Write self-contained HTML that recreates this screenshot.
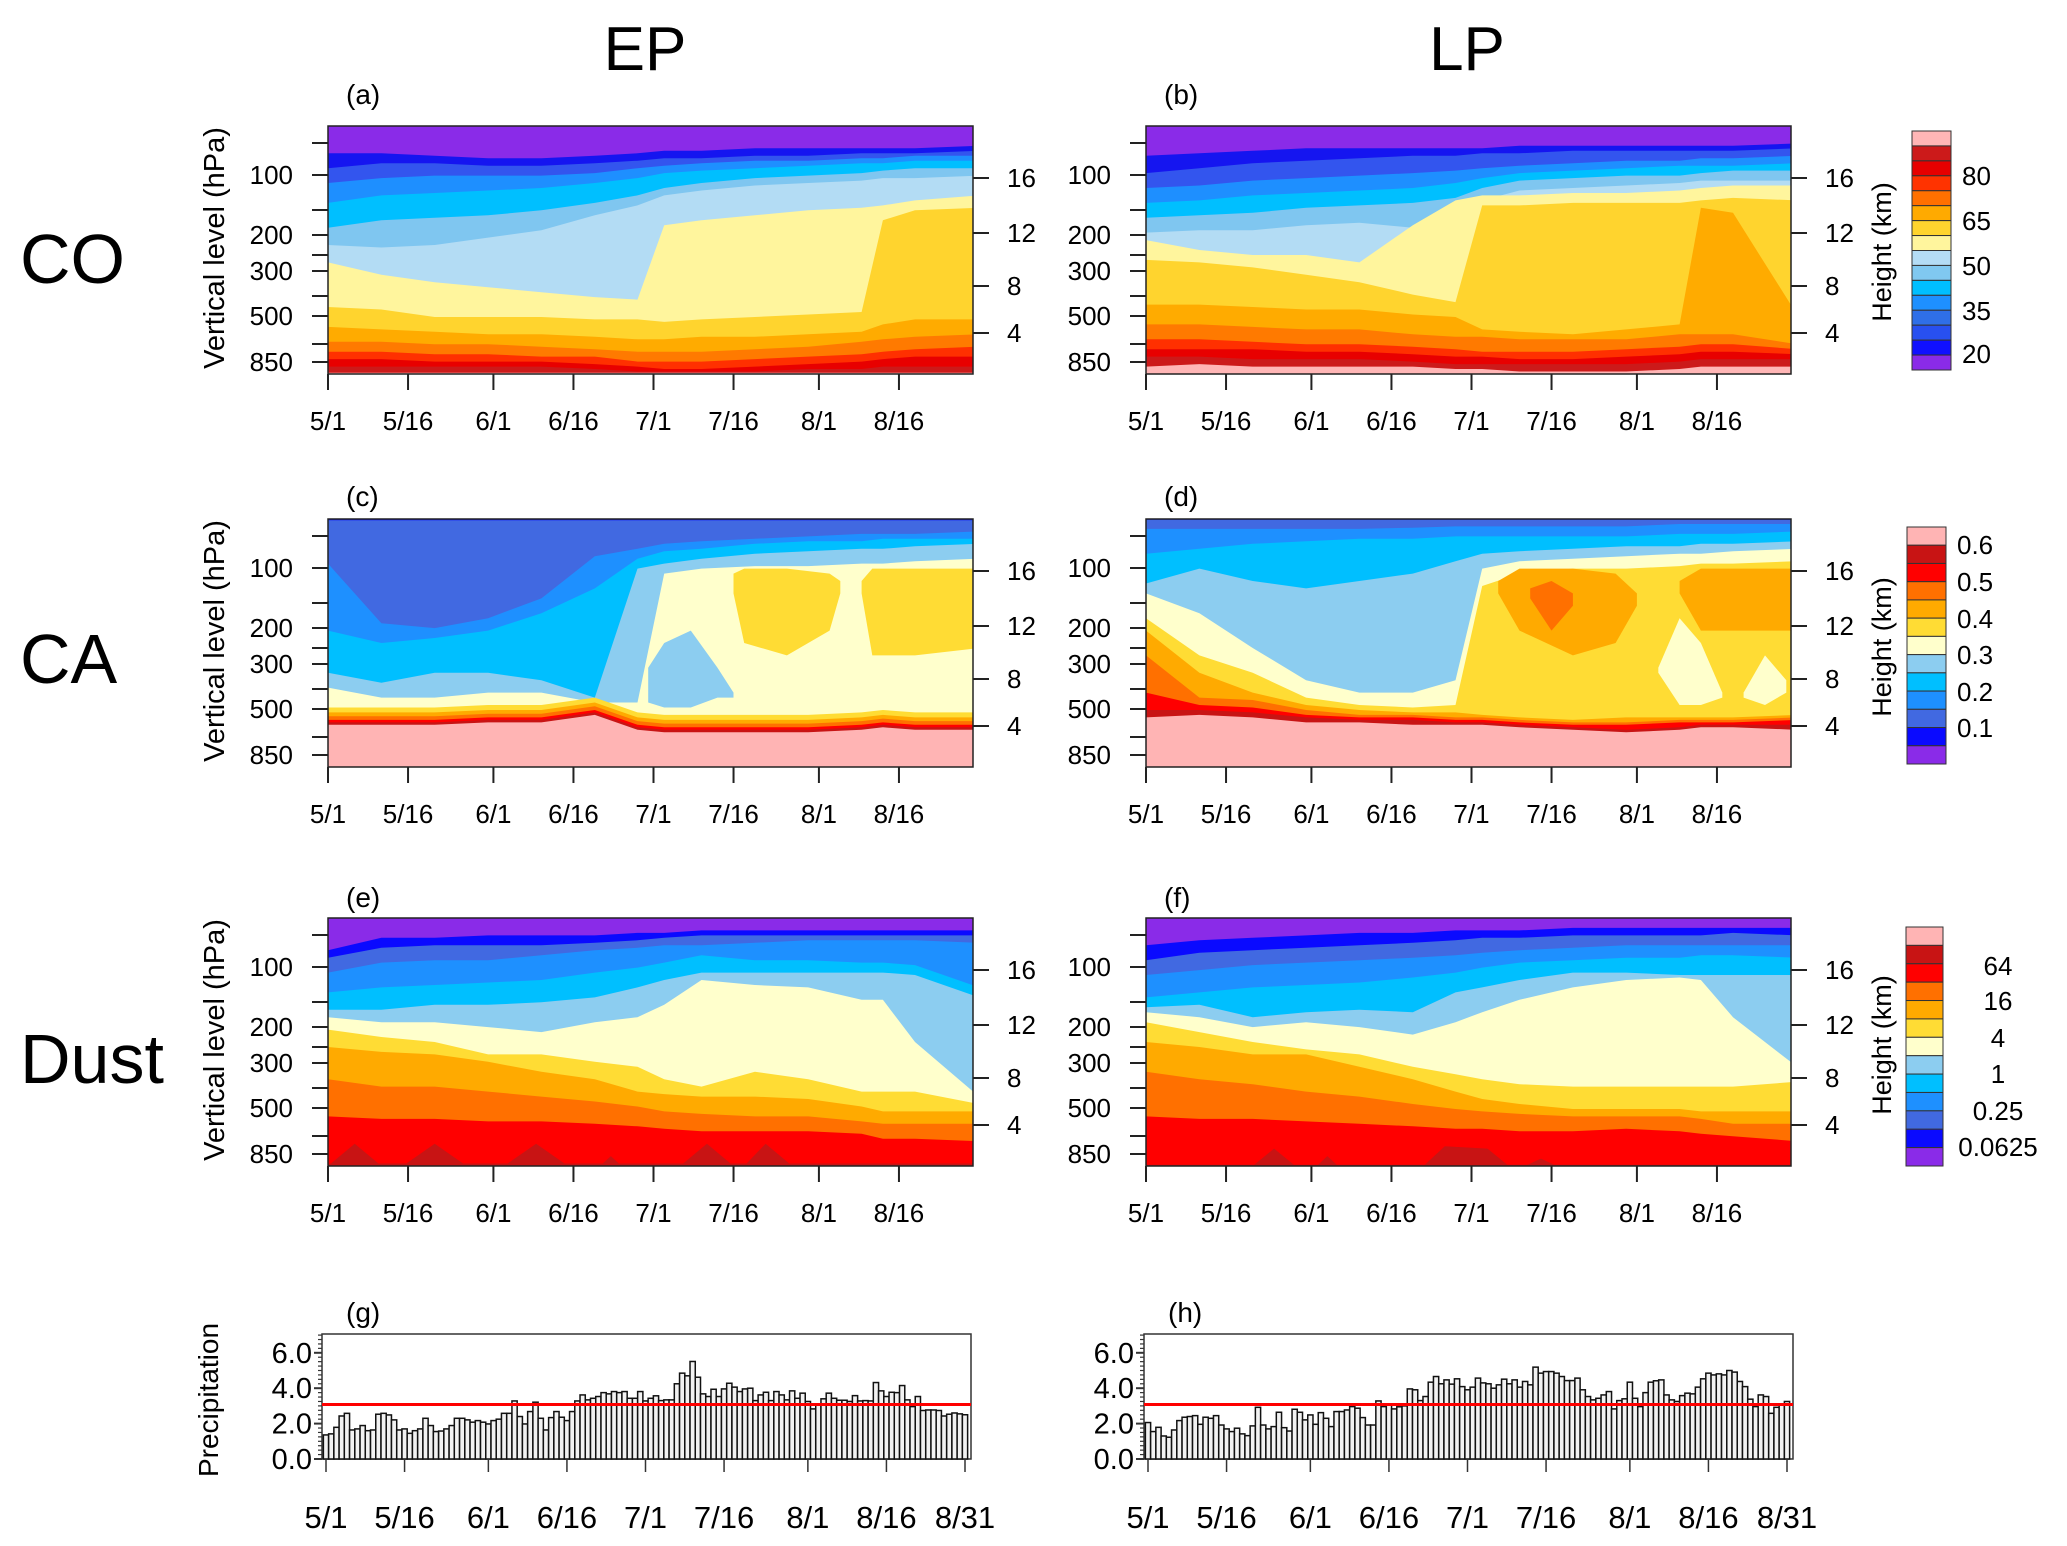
<!DOCTYPE html>
<html><head><meta charset="utf-8">
<style>
html,body{margin:0;padding:0;background:#fff;}
svg{display:block;font-family:"Liberation Sans",sans-serif;}
</style></head>
<body>
<svg id="fig" width="2067" height="1546" viewBox="0 0 2067 1546" xmlns="http://www.w3.org/2000/svg"></svg>
<script>
// ===== data =====
const DAYS=[0,10,20,30,40,50,58,63,70,80,90,100,104,110,122];
const DATE_TICK_DAYS=[0,15,31,46,61,76,92,107];
const DATE_TICK_LABELS=['5/1','5/16','6/1','6/16','7/1','7/16','8/1','8/16'];
const PRECIP_TICK_DAYS=[0,15,31,46,61,76,92,107,122];
const PRECIP_TICK_LABELS=['5/1','5/16','6/1','6/16','7/1','7/16','8/1','8/16','8/31'];
const PLEV_LABELS=['100','200','300','500','850'];
const HGT_LABELS=['16','12','8','4'];

const CO_COLORS=['#8a2be8','#1515f0','#3355ee','#1e8fff','#00bfff','#7fc6f0','#b3dcf4','#fff59d','#ffd42e','#ffab00','#ff7a00','#ff3000','#e80000','#cc1a1a','#ffb6b6'];
const CO_BAR=['#ffb6b6','#cc1a1a','#e60000','#ff3300','#ff7000','#ffaa00','#ffd42e','#fff59d','#b4dcf5','#80c8f0','#00bfff','#1e90ff','#2f6fe8','#2850f0','#1010ff','#8a2be8'];
const CO_BAR_LABELS=['80','65','50','35','20'];
const CA_COLORS=['#8a2be8','#0a0aff','#4169e1','#1e90ff','#00bfff','#8ccdf0','#ffffcc','#ffdc34','#ffaa00','#ff7000','#ff0000','#c81414','#ffb4b4'];
const CA_BAR_LABELS=['0.6','0.5','0.4','0.3','0.2','0.1'];
const DU_COLORS=['#8a2be8','#0a0aff','#4169e1','#1e90ff','#00bfff','#8ccdf0','#ffffcc','#ffdc34','#ffaa00','#ff7000','#ff0000','#c81414'];
const DU_BAR=['#ffb4b4','#c81414','#ff0000','#ff7000','#ffaa00','#ffdc34','#ffffcc','#8ccdf0','#00bfff','#1e90ff','#4169e1','#0a0aff','#8a2be8'];
const DU_BAR_LABELS=['64','16','4','1','0.25','0.0625'];

const A_B=[
[.11,.11,.12,.13,.13,.12,.11,.10,.10,.09,.09,.09,.09,.09,.08],
[.17,.15,.15,.16,.16,.15,.14,.13,.13,.12,.12,.11,.11,.11,.10],
[.23,.21,.20,.20,.20,.19,.17,.16,.15,.14,.14,.13,.13,.12,.12],
[.31,.28,.27,.26,.25,.23,.21,.19,.18,.17,.16,.15,.15,.14,.14],
[.41,.38,.37,.36,.34,.31,.28,.25,.23,.21,.20,.19,.18,.17,.17],
[.48,.49,.48,.45,.42,.36,.32,.28,.26,.24,.23,.22,.21,.21,.20],
[.55,.60,.63,.65,.67,.69,.70,.40,.38,.36,.34,.33,.32,.30,.28],
[.73,.74,.77,.77,.77,.78,.78,.79,.78,.77,.76,.75,.38,.34,.33],
[.81,.82,.83,.84,.84,.85,.86,.86,.85,.85,.84,.83,.80,.78,.78],
[.87,.87,.88,.88,.89,.90,.91,.91,.91,.90,.89,.87,.86,.85,.84],
[.91,.91,.92,.92,.93,.93,.95,.95,.95,.94,.93,.92,.91,.90,.89],
[.94,.94,.95,.95,.95,.96,.97,.98,.98,.97,.96,.95,.94,.93,.93],
[.97,.97,.97,.97,.97,.98,.99,.99,.99,.99,.98,.98,.97,.97,.97],
[.995,.995,.995,.995,.995,.995,.995,.995,.995,.995,.995,.995,.995,.995,.995]];
const B_B=[
[.12,.11,.10,.09,.09,.09,.09,.09,.08,.08,.08,.08,.08,.08,.07],
[.19,.17,.15,.14,.13,.12,.12,.11,.11,.10,.10,.10,.10,.10,.09],
[.25,.24,.22,.21,.20,.19,.18,.17,.16,.15,.14,.14,.13,.13,.12],
[.31,.30,.28,.27,.26,.25,.23,.21,.19,.18,.17,.16,.16,.16,.15],
[.37,.36,.35,.33,.32,.31,.29,.25,.22,.21,.20,.20,.19,.18,.18],
[.43,.42,.42,.40,.39,.41,.37,.30,.26,.25,.24,.23,.22,.22,.22],
[.46,.50,.52,.52,.55,.40,.30,.28,.28,.27,.27,.26,.25,.24,.24],
[.54,.55,.57,.60,.63,.68,.71,.32,.32,.31,.31,.31,.30,.29,.30],
[.72,.72,.73,.74,.74,.76,.77,.82,.83,.84,.82,.80,.33,.35,.76],
[.80,.80,.81,.82,.82,.84,.85,.85,.86,.86,.86,.84,.84,.84,.88],
[.86,.86,.87,.88,.88,.89,.90,.91,.91,.91,.90,.89,.88,.88,.90],
[.90,.90,.90,.91,.91,.92,.93,.93,.94,.94,.93,.92,.91,.91,.92],
[.93,.93,.94,.94,.94,.95,.96,.96,.96,.96,.96,.95,.94,.94,.94],
[.97,.96,.97,.97,.97,.97,.98,.98,.99,.99,.99,.98,.97,.97,.97]];
const C_B=[
[0,0,0,0,0,0,0,0,0,0,0,0,0,0,0],
[.005,.005,.005,.005,.005,.005,.005,.005,.005,.005,.005,.005,.005,.005,.005],
[.18,.42,.44,.40,.32,.15,.12,.10,.09,.08,.07,.06,.06,.06,.05],
[.45,.50,.48,.45,.38,.28,.16,.13,.12,.10,.09,.09,.08,.08,.08],
[.62,.66,.62,.62,.65,.72,.20,.18,.16,.14,.13,.12,.12,.11,.10],
[.68,.72,.72,.70,.70,.74,.74,.22,.20,.19,.19,.18,.18,.17,.16],
[.76,.76,.76,.75,.75,.72,.78,.79,.79,.79,.79,.78,.77,.78,.78],
[.78,.78,.78,.77,.77,.74,.80,.81,.81,.81,.81,.80,.79,.80,.80],
[.795,.795,.795,.785,.785,.755,.815,.825,.825,.825,.825,.815,.805,.815,.815],
[.81,.81,.81,.80,.80,.77,.83,.84,.84,.84,.84,.83,.82,.83,.83],
[.82,.82,.82,.81,.81,.78,.84,.85,.85,.85,.85,.84,.83,.84,.84],
[.83,.83,.83,.82,.82,.79,.85,.86,.86,.86,.86,.85,.84,.85,.85]];
const D_B=[
[0,0,0,0,0,0,0,0,0,0,0,0,0,0,0],
[.003,.003,.003,.003,.003,.003,.003,.003,.003,.003,.003,.003,.003,.003,.003],
[.04,.04,.04,.04,.04,.035,.03,.03,.03,.03,.03,.02,.02,.02,.02],
[.14,.12,.10,.09,.08,.08,.07,.07,.07,.07,.07,.06,.06,.06,.05],
[.26,.20,.25,.28,.25,.22,.17,.14,.13,.12,.11,.11,.10,.10,.09],
[.30,.38,.52,.65,.70,.70,.65,.20,.17,.16,.15,.14,.14,.13,.12],
[.40,.55,.62,.72,.75,.76,.75,.27,.22,.20,.20,.19,.18,.18,.17],
[.45,.62,.70,.75,.77,.78,.78,.79,.80,.81,.80,.80,.80,.80,.79],
[.55,.72,.73,.77,.79,.79,.80,.80,.81,.82,.82,.81,.81,.81,.80],
[.70,.75,.76,.79,.80,.80,.81,.81,.82,.83,.83,.82,.82,.82,.81],
[.77,.77,.78,.80,.81,.81,.82,.82,.83,.84,.85,.84,.83,.83,.83],
[.80,.79,.80,.82,.82,.83,.83,.83,.84,.85,.86,.85,.84,.84,.85]];
const E_B=[
[.13,.08,.08,.07,.07,.07,.06,.06,.05,.05,.05,.05,.05,.05,.05],
[.16,.12,.11,.11,.11,.10,.09,.08,.07,.07,.07,.07,.07,.07,.07],
[.22,.18,.17,.17,.15,.13,.12,.11,.11,.10,.09,.09,.09,.09,.10],
[.30,.28,.27,.26,.25,.22,.20,.18,.15,.17,.17,.18,.18,.19,.28],
[.37,.37,.35,.35,.34,.32,.28,.25,.22,.22,.22,.22,.22,.23,.32],
[.40,.42,.42,.44,.46,.42,.40,.35,.25,.27,.28,.33,.33,.50,.72],
[.45,.48,.50,.55,.55,.58,.60,.65,.68,.62,.65,.70,.70,.70,.75],
[.52,.54,.55,.58,.62,.65,.70,.71,.72,.72,.73,.76,.78,.78,.78],
[.65,.68,.68,.70,.72,.74,.76,.78,.79,.80,.80,.82,.83,.83,.83],
[.80,.81,.81,.82,.82,.83,.84,.85,.86,.86,.86,.87,.89,.89,.90],
[.99,.99,.99,.99,.99,.99,.99,.99,.99,.99,.99,.99,.99,.99,.99]];
const F_B=[
[.11,.09,.08,.07,.06,.06,.05,.05,.05,.04,.04,.04,.04,.04,.04],
[.17,.14,.13,.12,.11,.10,.09,.08,.08,.07,.07,.07,.07,.06,.07],
[.23,.21,.19,.18,.17,.16,.15,.14,.13,.12,.11,.11,.11,.11,.11],
[.32,.30,.28,.27,.26,.24,.22,.20,.18,.17,.16,.16,.15,.15,.16],
[.36,.35,.40,.38,.37,.38,.30,.28,.25,.22,.22,.23,.23,.23,.23],
[.38,.40,.44,.42,.44,.47,.42,.38,.33,.28,.25,.24,.25,.40,.60],
[.42,.46,.50,.53,.55,.60,.63,.65,.67,.68,.68,.68,.68,.68,.66],
[.50,.52,.55,.55,.60,.65,.70,.73,.75,.77,.77,.77,.78,.78,.78],
[.62,.65,.67,.70,.72,.75,.77,.78,.79,.80,.80,.80,.81,.83,.83],
[.80,.81,.81,.82,.83,.84,.85,.85,.86,.86,.85,.86,.87,.88,.90],
[.995,.995,.995,.995,.995,.995,.995,.995,.995,.995,.995,.995,.995,.995,.995]];
const C_BLOBS=[
{c:5,d:[60,63,68,73,76],t:[.6,.5,.45,.6,.7],b:[.74,.76,.76,.72,.72]},
{c:7,d:[76,78,86,94,96],t:[.22,.20,.20,.22,.25],b:[.3,.5,.55,.45,.3]},
{c:7,d:[100,102,110,122],t:[.25,.2,.2,.2],b:[.3,.55,.55,.52]}];
const D_BLOBS=[
{c:8,d:[66,70,80,88,92],t:[.25,.2,.2,.22,.3],b:[.3,.45,.55,.5,.35]},
{c:9,d:[72,76,80],t:[.28,.25,.3],b:[.32,.45,.35]},
{c:8,d:[100,104,110,122],t:[.25,.2,.2,.2],b:[.3,.45,.45,.45]},
{c:6,d:[96,100,104,108],t:[.6,.4,.5,.7],b:[.62,.75,.75,.72]},
{c:6,d:[112,116,120],t:[.7,.55,.65],b:[.72,.75,.7]}];
const E_BLOBS=[
{c:11,d:[0,5,10],t:[1,.91,1],b:[1,1,1]},
{c:11,d:[14,20,26],t:[1,.91,1],b:[1,1,1]},
{c:11,d:[33,39,45],t:[1,.91,1],b:[1,1,1]},
{c:11,d:[51,53,55],t:[1,.96,1],b:[1,1,1]},
{c:11,d:[66,71,76],t:[1,.91,1],b:[1,1,1]},
{c:11,d:[78,82,87],t:[1,.91,1],b:[1,1,1]}];
const F_BLOBS=[
{c:11,d:[20,24,28],t:[1,.93,1],b:[1,1,1]},
{c:11,d:[32,34,36],t:[1,.96,1],b:[1,1,1]},
{c:11,d:[52,56,64,68],t:[1,.92,.93,1],b:[1,1,1,1]},
{c:11,d:[71,74,77],t:[1,.97,1],b:[1,1,1]}];

const EP_PRECIP=[1.36,1.42,1.79,2.43,2.58,1.64,1.70,1.89,1.60,1.64,2.53,2.58,2.49,2.21,1.64,1.70,1.45,1.60,1.70,2.30,1.89,1.55,1.58,1.70,1.89,2.30,2.30,2.21,2.08,2.17,2.08,1.98,2.17,2.25,2.58,2.58,3.28,2.40,1.98,2.68,3.21,2.30,1.64,2.34,2.68,2.36,2.17,2.68,3.28,3.62,3.34,3.43,3.53,3.75,3.68,3.81,3.75,3.81,3.43,3.43,3.81,3.28,3.43,3.57,3.30,3.34,3.34,4.25,4.85,4.70,5.51,4.62,3.68,3.53,3.94,3.53,3.96,4.28,4.06,3.81,3.96,4.00,3.30,3.62,3.77,3.30,3.81,3.62,3.34,3.85,3.43,3.72,3.25,2.83,3.06,3.40,3.72,3.43,3.32,3.32,3.25,3.58,3.28,3.30,3.28,4.32,3.85,3.53,3.77,3.75,4.15,3.34,2.96,3.53,2.74,2.77,2.77,2.74,2.43,2.53,2.60,2.55,2.50];
const LP_PRECIP=[2.06,1.55,1.79,1.30,1.23,1.64,2.17,2.36,2.40,2.45,1.96,2.36,2.30,2.45,1.92,1.70,1.55,1.74,1.42,1.32,1.87,2.92,1.92,1.70,1.83,2.64,1.77,1.58,2.81,2.64,2.21,2.49,1.96,2.62,2.30,1.83,2.68,2.68,2.77,2.96,2.87,2.34,1.92,1.92,3.28,2.96,3.11,2.83,2.95,3.00,3.96,3.91,3.30,3.53,4.34,4.66,4.25,4.47,4.23,4.53,4.09,3.91,4.06,4.57,4.30,4.25,4.00,4.19,4.51,4.25,4.47,4.06,4.38,4.19,5.19,4.85,4.94,4.94,4.85,4.66,4.43,4.43,4.57,3.91,3.53,3.34,3.43,3.62,3.81,2.83,3.30,3.40,4.34,3.43,2.96,3.75,4.34,4.42,4.47,3.62,3.34,3.25,3.58,3.72,3.68,4.06,4.53,4.85,4.75,4.81,4.75,5.00,4.91,4.38,4.09,3.38,2.96,3.62,3.53,2.58,2.92,3.06,3.25];
const PRECIP_THRESHOLD=[3.08];
const PRECIP_YTICKS=[0,2,4,6];
const PRECIP_YLABELS=['0.0','2.0','4.0','6.0'];

const NS='http://www.w3.org/2000/svg';
const svg=document.getElementById('fig');
function el(tag,attrs,parent){const e=document.createElementNS(NS,tag);for(const k in attrs)e.setAttribute(k,attrs[k]);(parent||svg).appendChild(e);return e;}
function txt(s,x,y,size,anchor,parent,extra){const t=el('text',Object.assign({x:x,y:y,'font-size':size,'text-anchor':anchor||'start',fill:'#000'},extra||{}),parent);t.textContent=s;return t;}

const ROWS=[126,519,918];
const PH=248, PW=645, LX=[328,1146];
const DAYPX=5.336;
const PLEV_REL=[49,109,145,190,236], PLEV_MINOR=[17,84,129,170,218];
const HGT_REL=[52,107,160,207];

function contour(x0,y0,colors,bounds,blobs,name){
  const g=el('g',{});
  
  
  const cid='clip-'+name;
  const cp=el('clipPath',{id:cid},g);el('rect',{x:x0,y:y0,width:PW,height:PH},cp);
  const inner=el('g',{'clip-path':'url(#'+cid+')'},g);
  const X=d=>x0+d*DAYPX, Y=f=>y0+f*PH;
  const bg=el('rect',{x:x0,y:y0,width:PW,height:PH,fill:colors[0]},inner);
  
  
  bounds.forEach((b,k)=>{
    let pts=DAYS.map((d,i)=>X(d).toFixed(1)+','+Y(b[i]).toFixed(1));
    pts.push((x0+PW+5)+','+Y(b[b.length-1]).toFixed(1));
    pts.push((x0+PW+5)+','+(y0+PH+2),(x0-2)+','+(y0+PH+2),(x0-2)+','+Y(b[0]).toFixed(1));
    const p=el('polygon',{points:pts.join(' '),fill:colors[k+1]},inner);
    
    
  });
  (blobs||[]).forEach(bl=>{
    let pts=bl.d.map((d,i)=>X(d).toFixed(1)+','+Y(bl.t[i]).toFixed(1));
    for(let i=bl.d.length-1;i>=0;i--)pts.push(X(bl.d[i]).toFixed(1)+','+Y(bl.b[i]).toFixed(1));
    const p=el('polygon',{points:pts.join(' '),fill:colors[bl.c]},inner);
    
    
  });
  el('rect',{x:x0,y:y0,width:PW,height:PH,fill:'none',stroke:'#222','stroke-width':1.5},g);
  const ax=el('g',{stroke:'#222','stroke-width':2},g);
  PLEV_REL.concat(PLEV_MINOR).forEach(r=>el('line',{x1:x0-16,x2:x0,y1:y0+r,y2:y0+r},ax));
  HGT_REL.forEach(r=>el('line',{x1:x0+PW,x2:x0+PW+16,y1:y0+r,y2:y0+r},ax));
  DATE_TICK_DAYS.forEach(d=>el('line',{x1:X(d),x2:X(d),y1:y0+PH,y2:y0+PH+16},ax));
  const yl=el('g',{});
  
  
  g.appendChild(yl);
  PLEV_LABELS.forEach((s,i)=>txt(s,x0-35,y0+PLEV_REL[i]+9,26,'end',yl));
  const hl=el('g',{});
  
  
  g.appendChild(hl);
  HGT_LABELS.forEach((s,i)=>txt(s,x0+PW+34,y0+HGT_REL[i]+9,26,'start',hl));
  const xl=el('g',{});
  
  
  g.appendChild(xl);
  DATE_TICK_LABELS.forEach((s,i)=>txt(s,X(DATE_TICK_DAYS[i]),y0+PH+56,26,'middle',xl));
}

function colorbar(x,y,w,h,cols,labels,labelPos,lx,anchor,ty,name){
  const g=el('g',{});
  
  
  const bh=h/cols.length;
  cols.forEach((c,i)=>{const r=el('rect',{x:x,y:y+i*bh,width:w,height:bh,fill:c,stroke:'#333','stroke-width':1},g);
    
    });
  labels.forEach((s,i)=>txt(s,lx,labelPos[i]+9,26,anchor,g));
  const t=txt('Height (km)',0,0,27,'middle',g,{transform:'translate(1891,'+ty+') rotate(-90)'});
  
  
}

let t;
t=txt('EP',645,70,62,'middle');
t=txt('LP',1467,70,62,'middle');
t=txt('CO',20,283,70,'start');
t=txt('CA',20,683,70,'start');
t=txt('Dust',20,1083,70,'start');

const PL=['(a)','(b)','(c)','(d)','(e)','(f)'];
const PLY=[104,104,506,506,907,907];
PL.forEach((s,i)=>{const tt=txt(s,[346,1164][i%2],PLY[i],28,'start');});

contour(LX[0],ROWS[0],CO_COLORS,A_B,[],'panel-a-co-ep');
contour(LX[1],ROWS[0],CO_COLORS,B_B,[],'panel-b-co-lp');
contour(LX[0],ROWS[1],CA_COLORS,C_B,C_BLOBS,'panel-c-ca-ep');
contour(LX[1],ROWS[1],CA_COLORS,D_B,D_BLOBS,'panel-d-ca-lp');
contour(LX[0],ROWS[2],DU_COLORS,E_B,E_BLOBS,'panel-e-dust-ep');
contour(LX[1],ROWS[2],DU_COLORS,F_B,F_BLOBS,'panel-f-dust-lp');

ROWS.forEach(y=>{const vt=txt('Vertical level (hPa)',0,0,29,'middle',svg,{transform:'translate(224,'+(y+122)+') rotate(-90)'});
  });

colorbar(1912,131,39,239,CO_BAR,CO_BAR_LABELS,[176,221,266,311,354],1962,'start',252,'co-colorbar');
colorbar(1907,527,39,237,CA_COLORS.slice().reverse(),CA_BAR_LABELS,[545,582,619,655,692,728],1957,'start',647,'ca-colorbar');
colorbar(1906,927,37,239,DU_BAR,DU_BAR_LABELS,[966,1001,1038,1074,1111,1147],1998,'middle',1045,'dust-colorbar');

function precip(x0,vals,name,label){
  const g=el('g',{});
  
  
  const top=1334,bot=1459,left=x0-4,right=x0+645;
  const X=d=>x0+d*(639/122), Y=v=>bot-v*17.7;
  const bw=639/122;
  el('rect',{x:left,y:top,width:right-left,height:bot-top,fill:'#fff',stroke:'#333','stroke-width':1.5},g);
  vals.forEach((v,i)=>{const r=el('rect',{x:(X(i)-bw/2).toFixed(2),y:Y(v).toFixed(2),width:bw.toFixed(2),height:(bot-Y(v)).toFixed(2),fill:'#f2f2f2',stroke:'#111','stroke-width':1.5},g);
    
    });
  const ln=el('line',{x1:left,x2:right,y1:Y(PRECIP_THRESHOLD[0]),y2:Y(PRECIP_THRESHOLD[0]),stroke:'#ff0000','stroke-width':3},g);
  
  
  const ax=el('g',{stroke:'#333','stroke-width':1.2},g);
  for(let v=0;v<=7.0001;v+=0.25)el('line',{x1:left-4,x2:left,y1:Y(v),y2:Y(v)},ax);
  PRECIP_YTICKS.forEach(v=>el('line',{x1:left-8,x2:left,y1:Y(v),y2:Y(v),'stroke-width':2},ax));
  PRECIP_TICK_DAYS.forEach(d=>el('line',{x1:X(d),x2:X(d),y1:bot,y2:bot+13,'stroke-width':1.5},ax));
  PRECIP_YLABELS.forEach((s,i)=>txt(s,left-10,Y(PRECIP_YTICKS[i])+10,29,'end',g));
  PRECIP_TICK_LABELS.forEach((s,i)=>txt(s,X(PRECIP_TICK_DAYS[i]),1528,31,'middle',g));
  const pl=txt(label,x0+20,1322,28,'start',g);
  
  
}
precip(326,EP_PRECIP,'panel-g-precip-ep','(g)');
precip(1148,LP_PRECIP,'panel-h-precip-lp','(h)');
t=txt('Precipitation',0,0,28,'middle',svg,{transform:'translate(218,1400) rotate(-90)'});

</script>
</body></html>
